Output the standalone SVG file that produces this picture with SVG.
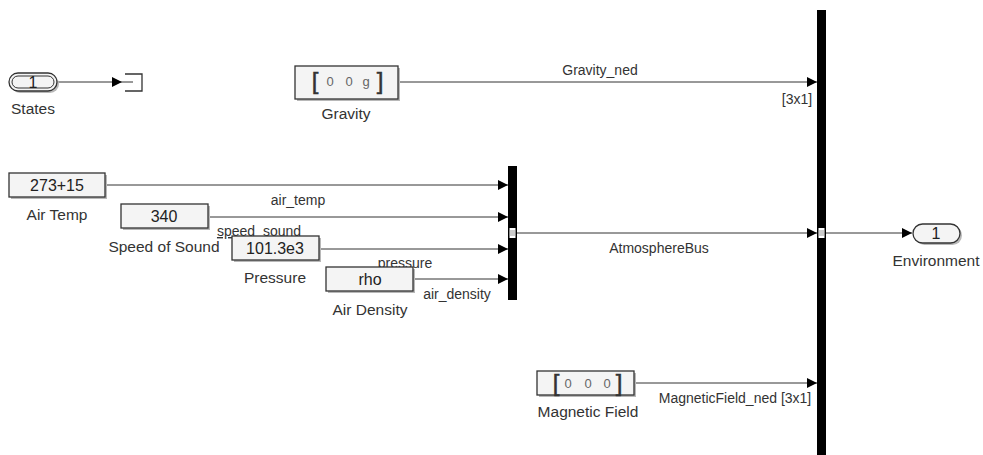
<svg xmlns="http://www.w3.org/2000/svg" width="983" height="455" viewBox="0 0 983 455">
<style>
.blk{fill:#f4f4f4;stroke:#333;stroke-width:1.3}
.shd{fill:#b8b8b8}
.btxt{font-family:"Liberation Sans",Arial,sans-serif;font-size:16px;fill:#222;text-anchor:middle}
.mono{font-family:"Liberation Sans",Arial,sans-serif;font-size:13px;fill:#666;text-anchor:middle}
.brk{font-family:"Liberation Sans",Arial,sans-serif;font-size:24px;fill:#333;stroke:#333;stroke-width:0.5;text-anchor:middle}
.lbl{font-family:"Liberation Sans",Arial,sans-serif;font-size:15.5px;fill:#333;text-anchor:middle}
.sig{font-family:"Liberation Sans",Arial,sans-serif;font-size:14px;fill:#333;text-anchor:middle}
.ln{stroke:#333;stroke-width:1;fill:none}
.bus{fill:#000}
</style>
<defs>
<marker id="arr" viewBox="0 0 10 10" refX="10" refY="5" markerWidth="10" markerHeight="10" markerUnits="userSpaceOnUse" orient="auto">
<path d="M0,0 L10,5 L0,10 z" fill="#000"/>
</marker>
</defs>
<rect width="983" height="455" fill="#fff"/>

<g id="connectors">
<line class="ln" x1="57" y1="82" x2="122" y2="82" marker-end="url(#arr)"/>
<line class="ln" x1="398" y1="82" x2="817" y2="82" marker-end="url(#arr)"/>
<line class="ln" x1="105" y1="185" x2="508" y2="185" marker-end="url(#arr)"/>
<line class="ln" x1="208" y1="217" x2="508" y2="217" marker-end="url(#arr)"/>
<line class="ln" x1="319" y1="249" x2="508" y2="249" marker-end="url(#arr)"/>
<line class="ln" x1="413" y1="279" x2="508" y2="279" marker-end="url(#arr)"/>
<line class="ln" x1="517" y1="233" x2="817" y2="233" marker-end="url(#arr)"/>
<line class="ln" x1="826" y1="233" x2="912" y2="233" marker-end="url(#arr)"/>
<line class="ln" x1="635" y1="383" x2="817" y2="383" marker-end="url(#arr)"/>
<text class="sig" x="600" y="75">Gravity_ned</text>
<text class="sig" x="797" y="104">[3x1]</text>
<text class="sig" x="298" y="205">air_temp</text>
<text class="sig" x="259" y="236" text-decoration="underline">speed_sound</text>
<text class="sig" x="405" y="268">pressure</text>
<text class="sig" x="457" y="299">air_density</text>
<text class="sig" x="659" y="253">AtmosphereBus</text>
<text class="sig" x="735" y="403">MagneticField_ned [3x1]</text>
</g>

<g id="states">
<rect x="11" y="75" width="48" height="18" rx="9" class="shd"/>
<rect x="9" y="73" width="48" height="18" rx="9" fill="#f4f4f4" stroke="#333" stroke-width="1.3"/>
<rect x="12" y="76" width="42" height="12" rx="6" fill="none" stroke="#333" stroke-width="1"/>
<text class="btxt" x="33" y="87.5" font-size="14">1</text>
<text class="lbl" x="33" y="114">States</text>
</g>

<g id="terminator">
<path d="M125,74 H142 V91 H125" fill="none" stroke="#333" stroke-width="1.3"/>
<line x1="122" y1="82" x2="133" y2="82" stroke="#333" stroke-width="1"/>
</g>

<g id="gravity">
<rect x="297" y="68" width="103" height="33" class="shd"/>
<rect x="295" y="66" width="103" height="33" class="blk"/>
<text class="brk" x="315" y="89">[</text>
<text class="brk" x="380" y="89">]</text>
<text class="mono" x="330" y="86">0</text>
<text class="mono" x="349" y="86">0</text>
<text class="mono" x="366" y="86">g</text>
<text class="lbl" x="346" y="119">Gravity</text>
</g>

<g id="air_temp">
<rect x="11" y="175" width="96" height="24" class="shd"/>
<rect x="9" y="173" width="96" height="24" class="blk"/>
<text class="btxt" x="57" y="191">273+15</text>
<text class="lbl" x="57" y="220">Air Temp</text>
</g>

<g id="speed_of_sound">
<rect x="123" y="206" width="87" height="24" class="shd"/>
<rect x="121" y="204" width="87" height="24" class="blk"/>
<text class="btxt" x="164" y="222">340</text>
<text class="lbl" x="164" y="252">Speed of Sound</text>
</g>

<g id="pressure">
<rect x="234" y="238" width="87" height="24" class="shd"/>
<rect x="232" y="236" width="87" height="24" class="blk"/>
<text class="btxt" x="275" y="254">101.3e3</text>
<text class="lbl" x="275" y="283">Pressure</text>
</g>

<g id="air_density">
<rect x="328" y="269" width="87" height="24" class="shd"/>
<rect x="326" y="267" width="87" height="24" class="blk"/>
<text class="btxt" x="370" y="285">rho</text>
<text class="lbl" x="370" y="315">Air Density</text>
</g>

<g id="atmosphere_bus">
<rect x="508" y="166" width="9" height="134" class="bus"/>
<rect x="509.5" y="228" width="6" height="10" fill="#fff"/>
<line x1="509.5" y1="231" x2="515.5" y2="231" stroke="#999" stroke-width="1"/>
<line x1="509.5" y1="233" x2="515.5" y2="233" stroke="#999" stroke-width="1"/>
<line x1="509.5" y1="235" x2="515.5" y2="235" stroke="#999" stroke-width="1"/>
</g>

<g id="environment_bus">
<rect x="817" y="10" width="9" height="445" class="bus"/>
<rect x="818.5" y="228" width="6" height="10" fill="#fff"/>
<line x1="818.5" y1="231" x2="824.5" y2="231" stroke="#999" stroke-width="1"/>
<line x1="818.5" y1="233" x2="824.5" y2="233" stroke="#999" stroke-width="1"/>
<line x1="818.5" y1="235" x2="824.5" y2="235" stroke="#999" stroke-width="1"/>
</g>

<g id="environment">
<rect x="915" y="226" width="47" height="19" rx="9.5" class="shd"/>
<rect x="913" y="224" width="47" height="19" rx="9.5" fill="#f4f4f4" stroke="#333" stroke-width="1.3"/>
<text class="btxt" x="936" y="238.5" font-size="14">1</text>
<text class="lbl" x="936" y="266">Environment</text>
</g>

<g id="magnetic_field">
<rect x="539" y="373" width="97" height="24" class="shd"/>
<rect x="537" y="371" width="97" height="24" class="blk"/>
<text class="brk" x="556" y="391">[</text>
<text class="brk" x="619" y="391">]</text>
<text class="mono" x="568" y="388">0</text>
<text class="mono" x="588" y="388">0</text>
<text class="mono" x="607" y="388">0</text>
<text class="lbl" x="588" y="417">Magnetic Field</text>
</g>
</svg>
